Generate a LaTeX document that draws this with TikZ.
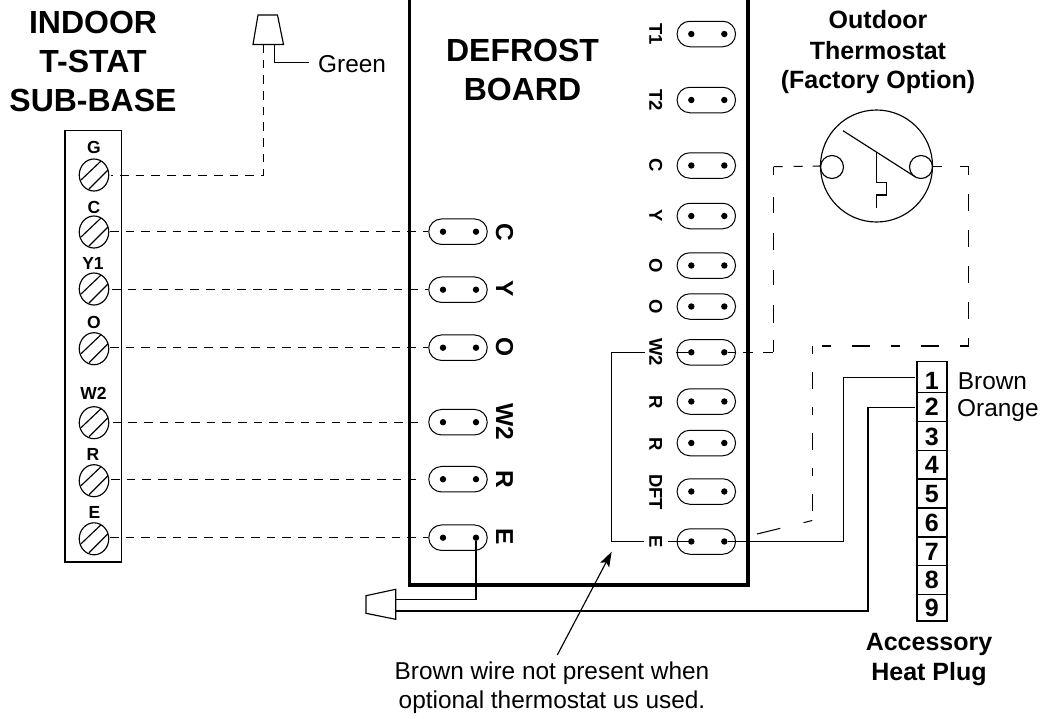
\documentclass[tikz,border=0pt]{standalone}
\usepackage{fontspec}
\setmainfont{Liberation Sans}
\usetikzlibrary{arrows.meta,shapes.geometric,shapes.misc}
\newcommand{\fsz}[1]{\fontsize{#1}{#1}\selectfont}
\tikzset{
  x=1pt,y=-1pt,
  wire/.style={line width=1.15pt,line join=miter},
  thin wire/.style={line width=1.05pt},
  shortdash/.style={line width=1.3pt,dash pattern=on 8.65pt off 7pt},
  title/.style={font=\fsz{32}\bfseries,anchor=base,inner sep=0pt},
  sublabel/.style={font=\fsz{25}\bfseries,anchor=base,inner sep=0pt},
  plain/.style={font=\fsz{24.4},inner sep=0pt},
  termlabel/.style={font=\fsz{17.5}\bfseries,anchor=base,inner sep=0pt},
  leftlabel/.style={font=\fsz{24.5}\bfseries,anchor=base,rotate=-90,inner sep=0pt},
  rightlabel/.style={font=\fsz{18.5}\bfseries,anchor=base,rotate=-90,inner sep=0pt},
  pill/.style={rounded rectangle,draw,line width=1pt,minimum width=58.5pt,minimum height=25.5pt,inner sep=0pt},
  dot/.style={circle,fill=black,inner sep=0pt,minimum size=6.4pt},
  screw/.style={ellipse,draw,line width=1.15pt,minimum width=29.5pt,minimum height=32pt,inner sep=0pt},
}
% \terminal{name}{x}{y}
\newcommand{\terminal}[3]{%
  \node[pill] (#1) at (#2,#3) {};
  \node[dot] (#1-a) at (#2-15,#3) {};
  \node[dot] (#1-b) at (#2+18,#3) {};
}
% \screwterm{name}{y}
\newcommand{\screwterm}[2]{%
  \node[screw] (#1) at (94,#2) {};
  \draw[wire] (94-13,#2+5) -- (94+7,#2-14);
  \draw[wire] (94-5,#2+14) -- (94+14,#2-5);
}
\begin{document}
\begin{tikzpicture}
\useasboundingbox (0,0) rectangle (1044,718);
% titles
\node[title] (t1) at (93,33.5) {INDOOR};
\node[title] (t2) at (93,72.7) {T-STAT};
\node[title] (t3) at (93,111.7) {SUB-BASE};
\node[title] (d1) at (522.5,61) {DEFROST};
\node[title] (d2) at (522.5,100) {BOARD};
\node[sublabel] (o1) at (878,28.3) {Outdoor};
\node[sublabel] (o2) at (878,59) {Thermostat};
\node[sublabel] (o3) at (878,88.3) {(Factory Option)};
\node[sublabel] (a1) at (929,650.7) {Accessory};
\node[sublabel] (a2) at (929,680.7) {Heat Plug};
\node[plain,anchor=base west] (green) at (318,72.7) {Green};
\node[plain,anchor=base west] (brown) at (957.7,389.3) {Brown};
\node[plain,anchor=base west] (orange) at (957,416) {Orange};
\node[plain,anchor=base] (n1) at (552,679.3) {Brown wire not present when};
\node[plain,anchor=base] (n2) at (552,708.3) {optional thermostat us used.};

% sub-base
\node[draw,line width=1.15pt,minimum width=56.5pt,minimum height=431.5pt,inner sep=0pt] (base) at (93.3,346.3) {};
\screwterm{sG}{175}
\screwterm{sC}{232}
\screwterm{sY}{289}
\screwterm{sO}{348.7}
\screwterm{sW}{422.7}
\screwterm{sR}{480.7}
\screwterm{sE}{538.8}
\node[termlabel] (lG) at (94,153) {G};
\node[termlabel] (lC) at (94,213) {C};
\node[termlabel] (lY) at (93,269.5) {Y1};
\node[termlabel] (lO) at (94,328) {O};
\node[termlabel] (lW) at (93.5,399) {W2};
\node[termlabel] (lR) at (93,460) {R};
\node[termlabel] (lE) at (94.5,518) {E};

% board
\draw[line width=3.5pt,line join=miter] (409.5,0) -- (409.5,585) -- (748,585) -- (748,0);

% left terminals
\terminal{LC}{458}{231.7}
\terminal{LY}{458}{289.7}
\terminal{LO}{458}{347.7}
\terminal{LW}{458}{422.2}
\terminal{LR}{458}{479.2}
\terminal{LE}{458}{537.7}
\node[leftlabel] (xC) at (496,232) {C};
\node[leftlabel] (xY) at (496,289) {Y};
\node[leftlabel] (xO) at (496,347) {O};
\node[leftlabel] (xW) at (496,422) {W2};
\node[leftlabel] (xR) at (496,479) {R};
\node[leftlabel] (xE) at (496,537) {E};

% right terminals
\terminal{RA}{706.3}{34}
\terminal{RB}{706.3}{100}
\terminal{RC}{706.3}{165.5}
\terminal{RD}{706.3}{216}
\terminal{RE}{706.3}{265.5}
\terminal{RF}{706.3}{306.5}
\terminal{RG}{706.3}{352.3}
\terminal{RH}{706.3}{401.5}
\terminal{RI}{706.3}{443}
\terminal{RJ}{706.3}{491.5}
\terminal{RK}{706.3}{541.5}

% short-dash wires
\coordinate (gS) at (111,175.3);
\coordinate (gC) at (263.5,175.3);
\coordinate (gT) at (263.5,44.5);
\draw[shortdash,dash phase=6.6pt] (gS) -- (gC) -- (gT);
\coordinate (aC) at (110,231.7);
\coordinate (aY) at (112,289.7);
\coordinate (aO) at (110,347.7);
\coordinate (aW) at (112.7,422.2);
\coordinate (aR) at (111,479.2);
\coordinate (aE) at (110,537.7);
\coordinate (eW) at (418,422.2);
\coordinate (eR) at (416,479.2);
\draw[shortdash] (aC) -- (LC.west);
\draw[shortdash] (aY) -- (LY.west);
\draw[shortdash] (aO) -- (LO.west);
\draw[shortdash] (aW) -- (eW);
\draw[shortdash] (aR) -- (eR);
\draw[shortdash] (aE) -- (LE.west);

% green plug
\coordinate (gp1) at (258,15);
\coordinate (gp2) at (277.5,15);
\coordinate (gp3) at (283.5,44.5);
\coordinate (gp4) at (253,44.5);
\draw[wire] (gp1) -- (gp2) -- (gp3) -- (gp4) -- cycle;
\coordinate (gw1) at (274.5,44);
\coordinate (gw2) at (274.5,62.5);
\coordinate (gw3) at (309,62.5);
\draw[wire] (gw1) -- (gw2) -- (gw3);

% lower-left plug
\coordinate (p1) at (395.7,589.3);
\coordinate (p2) at (395.7,619.3);
\coordinate (p3) at (366,613.3);
\coordinate (p4) at (366,595.7);
\draw[wire] (p1) -- (p2) -- (p3) -- (p4) -- cycle;
\coordinate (pa) at (395.7,599.3);
\coordinate (pw) at (476,599.3);
\draw[wire] (pa) -- (pw) -- (LE-b);

% accessory plug
\node[draw,line width=1.15pt,minimum width=30pt,minimum height=259.3pt,inner sep=0pt] (strip) at (932,491.4) {};
\foreach \yy in {392.3,421.3,450.3,479,508,537,565.7,594.7}
  \draw[wire] (917,\yy) -- (947,\yy);
\foreach \nn/\yy in {1/389.3,2/415,3/445,4/473.3,5/502,6/531,7/560,8/588.3,9/616.7}
  \node[sublabel] (num\nn) at (931.7,\yy) {\nn};

% solid wires
\coordinate (w1a) at (843.3,541.5);
\coordinate (w1b) at (843.3,377.3);
\coordinate (w1c) at (915,377.3);
\draw[wire] (RK-b) -- (w1a) -- (w1b) -- (w1c);
\coordinate (w2a) at (915,407.7);
\coordinate (w2b) at (868,407.7);
\coordinate (w2c) at (868,611);
\coordinate (w2d) at (396,611);
\draw[wire] (w2a) -- (w2b) -- (w2c) -- (w2d);
% brown optional wire, broken around the labels
\coordinate (b0) at (645,352.3);
\coordinate (b1) at (611.7,352.3);
\coordinate (b2) at (611.7,541.5);
\coordinate (b3) at (644,541.5);
\coordinate (b4) at (676,352.3);
\coordinate (b5) at (668,541.5);
\draw[wire] (b0) -- (b1) -- (b2) -- (b3);
\draw[wire] (b4) -- (RG-a);
\draw[wire] (b5) -- (RK-a);

% right labels
\node[rightlabel] (yA) at (649.3,34) {T1};
\node[rightlabel] (yB) at (649.3,100) {T2};
\node[rightlabel] (yC) at (649.3,165.5) {C};
\node[rightlabel] (yD) at (649.3,216) {Y};
\node[rightlabel] (yE) at (649.3,266) {O};
\node[rightlabel] (yF) at (649.3,307) {O};
\node[rightlabel] (yG) at (649.3,352) {W2};
\node[rightlabel] (yH) at (649.3,402) {R};
\node[rightlabel] (yI) at (649.3,444) {R};
\node[rightlabel] (yJ) at (649.3,492) {DFT};
\node[rightlabel] (yK) at (649.3,541.7) {E};

% outdoor thermostat
\node[circle,draw,line width=1.15pt,minimum size=112pt,inner sep=0pt] (th) at (876.5,166) {};
\node[circle,draw,line width=1.15pt,minimum size=23pt,inner sep=0pt] (thL) at (832,167) {};
\node[circle,draw,line width=1.15pt,minimum size=23pt,inner sep=0pt] (thR) at (921,167) {};
\draw[wire] (843,130.7) -- (915,176.7);
\draw[wire] (876.3,151.7) -- (876.3,182.3) -- (886.7,182.3) -- (886.7,195) -- (876.3,195) -- (876.3,208);

% dashed wires of the thermostat
\coordinate (c0) at (735,352.3);
\coordinate (c00) at (743,352.3);
\coordinate (c1) at (773.5,352.3);
\coordinate (c2) at (773.5,166.7);
\coordinate (c3) at (968.5,166.7);
\coordinate (c4) at (968.5,346);
\coordinate (c5) at (812.3,346);
\coordinate (c6) at (812.3,520.5);
\coordinate (c7) at (757,534);
\coordinate (c8) at (959.5,166.7);
\coordinate (t1) at (932,166.7);
\coordinate (t2) at (942,166.7);
\draw[thin wire] (RG-b) -- (c0);
\draw[thin wire,dash pattern=on 10pt off 10pt] (c00) -- (c1);
\draw[thin wire,dash pattern=on 12pt off 17pt on 18pt off 20pt on 15pt off 20pt on 17pt off 20pt on 16pt off 22pt on 8pt off 10pt] (c1) -- (c2);
\draw[thin wire,dash pattern=on 9pt off 11pt on 9pt off 10pt on 8pt off 10pt] (c2) -- (th.west);
\draw[thin wire] (t1) -- (t2);
\draw[thin wire] (c8) -- (c3);
\draw[thin wire,dash pattern=on 8.5pt off 19pt on 17pt off 19pt on 17pt off 19pt on 17pt off 19pt on 17pt off 19pt on 17pt off 19pt] (c3) -- (c4);
\draw[thin wire,dash pattern=on 9pt off 21pt on 18pt off 21pt] (c4) -- (c5);
\draw[thin wire,dash pattern=on 8pt off 18pt on 17pt off 18pt] (c5) -- (c6);
\draw[thin wire,dash pattern=on 9pt off 24pt on 24pt off 200pt] (c6) -- (c7);

% arrow
\coordinate (ar1) at (557.3,655);
\coordinate (ar2) at (611.7,551.7);
\draw[line width=1.15pt,-{Stealth[length=15pt,width=10pt,inset=3pt]}] (ar1) -- (ar2);
\end{tikzpicture}
\end{document}
